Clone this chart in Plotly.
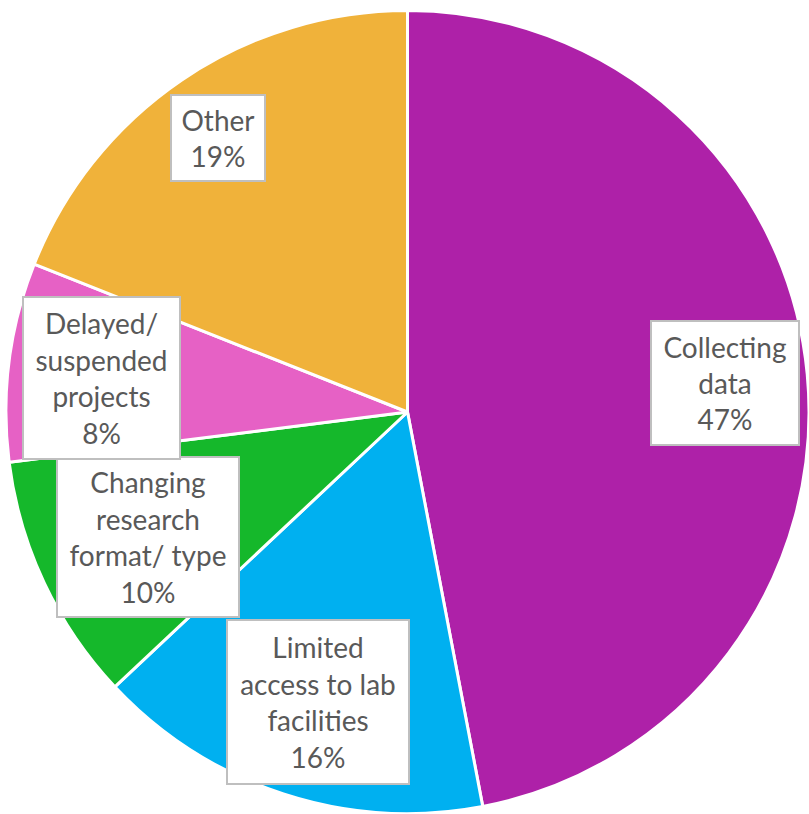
import plotly.graph_objects as go

categories = ["Collecting data", "Limited access to lab facilities",
              "Changing research format/ type", "Delayed/ suspended projects", "Other"]
label_lines = ["Collecting<br>data", "Limited<br>access to lab<br>facilities",
               "Changing<br>research<br>format/ type", "Delayed/<br>suspended<br>projects", "Other"]
values = [47, 16, 10, 8, 19]
colors = ["#AE21A8", "#00B0F0", "#15B82B", "#E661C5", "#F0B23A"]

W, H = 809, 814
# label box centres and sizes (pixels)
box_centers = [(725, 383), (318, 702), (148, 537), (102, 378), (218, 138)]
box_sizes = [(146, 122), (180, 162), (180, 158), (155, 160), (92, 84)]

fig = go.Figure(go.Pie(
    labels=categories, values=values, sort=False, direction="clockwise", rotation=0,
    marker=dict(colors=colors, line=dict(color="white", width=3)),
    textinfo="none", hoverinfo="label+percent", showlegend=False,
    domain=dict(x=[6 / W, 1.0], y=[0.0, 804 / H]),
))

for txt, v, (cx, cy), (bw, bh) in zip(label_lines, values, box_centers, box_sizes):
    fig.add_annotation(
        x=cx / W, y=1 - cy / H, xref="paper", yref="paper",
        xanchor="center", yanchor="middle",
        text=f"{txt}<br>{v}%", showarrow=False, align="center",
        width=bw, height=bh, valign="middle",
        font=dict(family="Lato", size=28, color="#595959"),
        bgcolor="white", bordercolor="#BFBFBF", borderwidth=2, borderpad=0,
    )

fig.update_layout(width=W, height=H, margin=dict(l=0, r=0, t=0, b=0),
                  paper_bgcolor="white", plot_bgcolor="white")
fig.write_html("out.html", config={"displayModeBar": False},
               post_script="document.body.style.margin='0';")
